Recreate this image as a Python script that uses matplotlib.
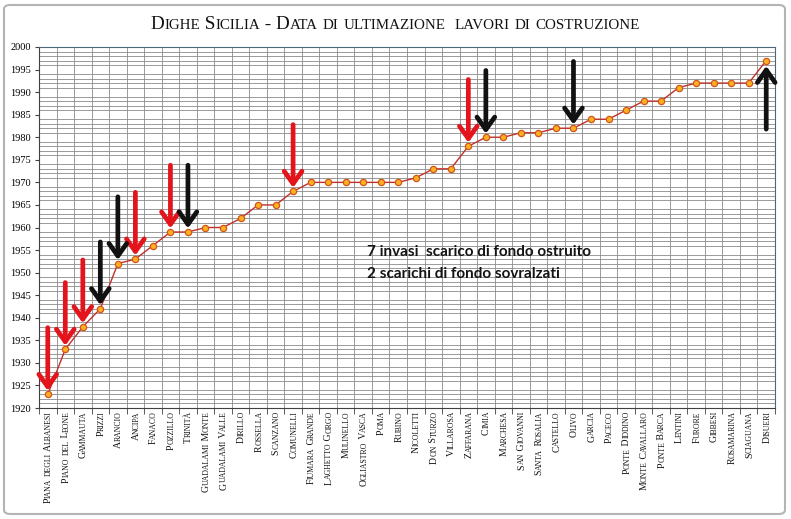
import matplotlib
matplotlib.use('Agg')
import matplotlib.pyplot as plt
from matplotlib.patches import FancyBboxPatch

# dams and year when construction works were completed
dams = ['Piana degli Albanesi', 'Piano del Leone', 'Gammauta', 'Prizzi', 'Arancio',
        'Ancipa', 'Fanaco', 'Pozzillo', 'Trinità', 'Guadalami Monte', 'Guadalami Valle',
        'Dirillo', 'Rossella', 'Scanzano', 'Comunelli', 'Fiumara Grande', 'Laghetto Gorgo',
        'Mulinello', 'Ogliastro Vasca', 'Poma', 'Rubino', 'Nicoletti', 'Don Sturzo',
        'Villarosa', 'Zaffarana', 'Cimia', 'Marchesa', 'San Giovanni', 'Santa Rosalia',
        'Castello', 'Olivo', 'Garcia', 'Paceco', 'Ponte Diddino', 'Monte Cavallaro',
        'Ponte Barca', 'Lentini', 'Furore', 'Gibbesi', 'Rosamarina', 'Sciaguana', 'Disueri']
years = [1923, 1933, 1938, 1942, 1952, 1953, 1956, 1959, 1959, 1960, 1960, 1962,
         1965, 1965, 1968, 1970, 1970, 1970, 1970, 1970, 1970, 1971, 1973, 1973,
         1978, 1980, 1980, 1981, 1981, 1982, 1982, 1984, 1984, 1986, 1988, 1988,
         1991, 1992, 1992, 1992, 1992, 1997]

red_down = ['Piana degli Albanesi', 'Piano del Leone', 'Gammauta', 'Ancipa',
            'Pozzillo', 'Comunelli', 'Zaffarana']
black_down = ['Prizzi', 'Arancio', 'Trinità', 'Cimia', 'Olivo']
black_up = ['Disueri']

title = 'Dighe Sicilia - Data di ultimazione  lavori di costruzione'
note = ['7 invasi  scarico di fondo ostruito', '2 scarichi di fondo sovralzati']

W, H = 791, 519
SERIF = 'Liberation Serif'

fig = plt.figure(figsize=(W / 100, H / 100), dpi=100)
fig.patches.append(FancyBboxPatch((4 / W, 5 / H), 781 / W, 509 / H,
                                  boxstyle='round,pad=0,rounding_size=0.008',
                                  transform=fig.transFigure, fc='white',
                                  ec='#b4b4b4', lw=1.5, zorder=-10))

ax = fig.add_axes([39 / W, 1 - 408 / H, 736 / W, 361 / H])
x = list(range(len(dams)))
ax.plot(x, years, color='#c0302a', lw=1.0, marker='o', ms=4.5,
        mfc='#ffb020', mec='#d2541a', mew=0.9, zorder=4)

ax.set_xlim(-0.5, len(dams) - 0.5)
ax.set_ylim(1920, 2000)
ax.set_yticks(range(1920, 2001, 5))
ax.set_yticks(range(1920, 2001), minor=True)
ax.set_xticks([])
ax.set_xticks([i + 0.5 for i in range(-1, len(dams))], minor=True)
ax.grid(which='minor', color='#8a8a8a', lw=0.6)
ax.set_axisbelow(True)
ax.tick_params(axis='y', which='major', labelsize=7.5, length=3, pad=3, color='#404040')
ax.tick_params(axis='y', which='minor', length=0)
ax.tick_params(axis='x', which='minor', length=4, color='#404040')
for lab in ax.get_yticklabels():
    lab.set_fontfamily(SERIF)
for side in ['top', 'right']:
    ax.spines[side].set_color('#4a6878')
for side in ['left', 'bottom']:
    ax.spines[side].set_color('#404040')

# arrows pointing at the dams
ARROW_LEN = 14
for names, color, up in [(red_down, '#e3141b', False), (black_down, '#111111', False),
                         (black_up, '#111111', True)]:
    for n in names:
        i = dams.index(n)
        y = years[i]
        if up:
            tip, tail = y - 1.2, y - 1.2 - ARROW_LEN
        else:
            tip, tail = y + 0.8, y + 0.8 + ARROW_LEN
        ax.annotate('', xy=(i, tip), xytext=(i, tail),
                    arrowprops=dict(arrowstyle='->,head_length=0.45,head_width=0.32',
                                    color=color, lw=3.4, mutation_scale=20,
                                    shrinkA=0, shrinkB=0), zorder=5)

ax.text(0.446, 0.421, note[0], transform=ax.transAxes, fontsize=11,
        family='Lato', weight='bold', color='#141414', va='baseline')
ax.text(0.446, 0.360, note[1], transform=ax.transAxes, fontsize=11,
        family='Lato', weight='bold', color='#141414', va='baseline')

# small caps text, built from runs of big and small capitals
renderer = fig.canvas.get_renderer()
_bars = {}


def run_width(txt, size):
    if size not in _bars:
        t = fig.text(0, 0, '||', fontsize=size, family=SERIF)
        _bars[size] = t.get_window_extent(renderer).width
        t.remove()
    t = fig.text(0, 0, '|' + txt + '|', fontsize=size, family=SERIF)
    w = t.get_window_extent(renderer).width
    t.remove()
    return w - _bars[size]


def smallcaps(s, big, small):
    runs = []
    for ch in s:
        sz = small if ch.isalpha() and ch.islower() else big
        if runs and runs[-1][1] == sz:
            runs[-1][0] += ch.upper()
        else:
            runs.append([ch.upper(), sz])
    return [(r, sz, run_width(r, sz)) for r, sz in runs]


def draw_horizontal(s, xc, yb, big, small):
    runs = smallcaps(s, big, small)
    xp = xc - sum(r[2] for r in runs) / 2
    for r, sz, w in runs:
        if r.strip():
            fig.text(xp / W, yb / H, r, fontsize=sz, family=SERIF,
                     ha='left', va='baseline', color='#111111')
        xp += w


def draw_vertical(s, xb, ytop, big, small):
    runs = smallcaps(s, big, small)
    yp = ytop - sum(r[2] for r in runs)
    for r, sz, w in runs:
        if r.strip():
            fig.text(xb / W, yp / H, r, fontsize=sz, family=SERIF, rotation=90,
                     rotation_mode='anchor', ha='left', va='baseline', color='#111111')
        yp += w


draw_horizontal(title, 395, H - 29, 13.8, 10.8)

big_lab, small_lab = 7.0, 5.6
cap = 0.66 * big_lab * 100 / 72
for i, n in enumerate(dams):
    xd, yd = ax.transData.transform((i, 1920))
    draw_vertical(n, xd + cap / 2, yd - 3, big_lab, small_lab)

fig.savefig('out.png', dpi=100, facecolor='white')
